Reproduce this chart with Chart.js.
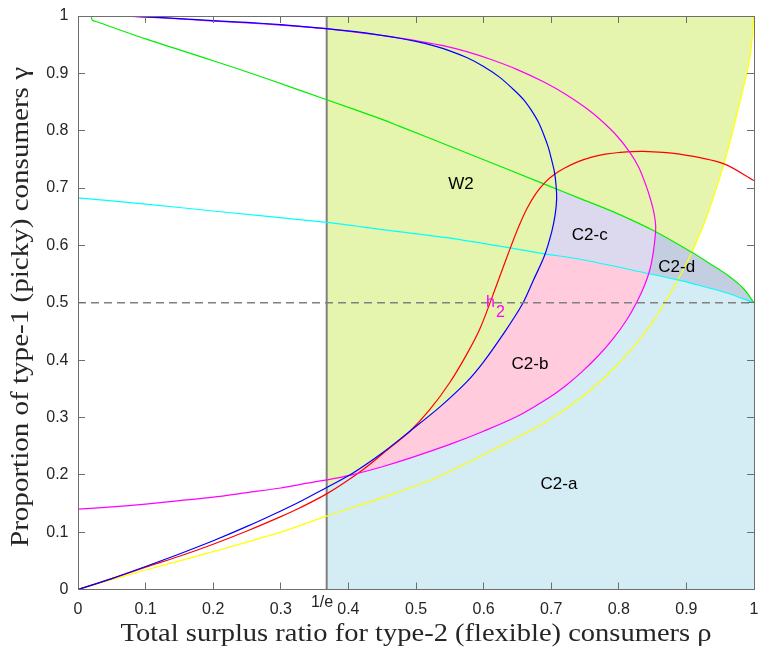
<!DOCTYPE html>
<html>
<head>
<meta charset="utf-8">
<script src="https://cdn.jsdelivr.net/npm/chart.js@4.4.1/dist/chart.umd.min.js"></script>
<style>
  html, body { margin: 0; padding: 0; background: #ffffff; }
  canvas { display: block; }
</style>
</head>
<body>
<canvas id="c" width="759" height="653"></canvas>
<script>
// Threshold on the rho axis
const INV_E = 1 / Math.E;

// Axis ticks (shared by both axes)
const tickValues = [0, 0.1, 0.2, 0.3, 0.4, 0.5, 0.6, 0.7, 0.8, 0.9, 1];
const tickLabels = ['0', '0.1', '0.2', '0.3', '0.4', '0.5', '0.6', '0.7', '0.8', '0.9', '1'];

// Boundary curves, [rho, gamma] pairs in drawing order
const curveGreen = [[0,1],[0.019,1],[0.021,0.993],[0.03,0.989],[0.1,0.960],[0.2,0.922],[0.2786,0.891],[0.3679,0.854],
  [0.447,0.821],[0.476,0.8075],[0.565,0.766],[0.691,0.7064],[0.743,0.6815],[0.787,0.661],[0.851,0.626],
  [0.908,0.588],[0.935,0.568],[0.9645,0.545],[0.985,0.524],[1,0.5]];

const curveCyan = [[0,0.683],[0.1,0.672],[0.2,0.66],[0.3679,0.64],[0.447,0.628],[0.565,0.61],[0.688,0.5857],
  [0.7426,0.5758],[0.8437,0.551],[0.8905,0.539],[0.92,0.530],[0.96,0.517],[1,0.5]];

const curveYellow = [[0,0],[0.1,0.034],[0.2,0.066],[0.3,0.1],[0.3679,0.128],[0.447,0.159],[0.52,0.19],[0.6,0.235],
  [0.693,0.293],[0.7426,0.333],[0.792,0.385],[0.83,0.435],[0.851,0.468],[0.868,0.5],[0.8856,0.536],
  [0.905,0.58],[0.93,0.65],[0.955,0.74],[0.975,0.83],[0.994,0.928],[1,1]];

const curveRed = [[0,0],[0.05,0.019],[0.1,0.039],[0.15,0.058],[0.2,0.079],[0.25,0.102],[0.3,0.127],[0.3284,0.1425],
  [0.369,0.1676],[0.422,0.2094],[0.455,0.241],[0.491,0.276],[0.52,0.313],[0.55,0.361],[0.575,0.41],[0.5947,0.455],
  [0.619,0.53],[0.64,0.597],[0.652,0.633],[0.664,0.664],[0.677,0.69],[0.691,0.71],[0.705,0.724],[0.72,0.735],
  [0.74,0.746],[0.76,0.754],[0.78,0.759],[0.8,0.762],[0.836,0.764],[0.89,0.759],[0.9546,0.7425],[1,0.713]];

const curveBlue = [[0,0],[0.05,0.019],[0.1,0.04],[0.15,0.062],[0.2,0.085],[0.25,0.11],[0.3,0.137],[0.328,0.153],
  [0.3679,0.178],[0.402,0.1995],[0.45,0.238],[0.491,0.276],[0.535,0.318],[0.575,0.362],[0.6,0.397],[0.63,0.447],
  [0.657,0.497],[0.6735,0.539],[0.69,0.582],[0.701,0.625],[0.706,0.655],[0.708,0.68],[0.7072,0.705],[0.7045,0.73],
  [0.7,0.752],[0.696,0.77],[0.69,0.79],[0.681,0.815],[0.671,0.835],[0.66,0.853],[0.645,0.871],[0.624,0.893],
  [0.6,0.912],[0.575,0.9275],[0.55,0.9393],[0.5256,0.9483],[0.5,0.9557],[0.476,0.9612],[0.447,0.9667],
  [0.41,0.9726],[0.3679,0.978],[0.3,0.9848],[0.25,0.9888],[0.2,0.9918],[0.15,0.9955],[0.1,0.9985],[0.07,1]];

const curveMagenta = [[0,0.14],[0.05,0.144],[0.1,0.149],[0.15,0.155],[0.2,0.161],[0.25,0.169],[0.3,0.177],[0.328,0.183],
  [0.3679,0.191],[0.402,0.199],[0.45,0.214],[0.491,0.229],[0.55,0.253],[0.6,0.276],[0.65,0.302],[0.696,0.334],
  [0.72,0.354],[0.745,0.379],[0.77,0.408],[0.792,0.438],[0.8116,0.47],[0.826,0.4997],[0.838,0.53],[0.846,0.558],
  [0.851,0.588],[0.854,0.618],[0.8545,0.635],[0.853,0.65],[0.85,0.667],[0.846,0.684],[0.841,0.702],[0.83,0.735],
  [0.8166,0.7618],[0.797,0.7912],[0.772,0.8199],[0.75,0.8408],[0.723,0.8624],[0.69,0.8845],[0.649,0.907],
  [0.61,0.9245],[0.575,0.9378],[0.54,0.9483],[0.503,0.9564],[0.476,0.9615],[0.447,0.9664],[0.41,0.972],
  [0.3679,0.9775],[0.3,0.984],[0.25,0.988],[0.2,0.991],[0.15,0.995],[0.1,0.998],[0.07,1]];

// Region names and where they are written (rho, gamma)
const regionNames = ['W2', 'C2-c', 'C2-d', 'C2-b', 'C2-a'];
const regionX = [0.5666, 0.7570, 0.8857, 0.6686, 0.7115];
const regionY = [0.7073, 0.6177, 0.5623, 0.3920, 0.1829];

// Curve label h_2 (left end of the "h", on its baseline)
const h2X = 0.6036;
const h2Y = 0.4927;

const xTitle = 'Total surplus ratio for type-2 (flexible) consumers \u03C1';
const yTitle = 'Proportion of type-1 (picky) consumers \u03B3';

// ---- geometry helpers: crossings of two polylines and sub-paths between them ----
function crossings(a, b) {
  const out = [];
  for (let i = 0; i < a.length - 1; i++) {
    for (let j = 0; j < b.length - 1; j++) {
      const [x1, y1] = a[i], [x2, y2] = a[i + 1], [x3, y3] = b[j], [x4, y4] = b[j + 1];
      const d = (x2 - x1) * (y4 - y3) - (y2 - y1) * (x4 - x3);
      if (Math.abs(d) < 1e-14) continue;
      const t = ((x3 - x1) * (y4 - y3) - (y3 - y1) * (x4 - x3)) / d;
      const u = ((x3 - x1) * (y2 - y1) - (y3 - y1) * (x2 - x1)) / d;
      if (t >= 0 && t <= 1 && u >= 0 && u <= 1) {
        out.push({ pa: i + t, pb: j + u, x: x1 + t * (x2 - x1), y: y1 + t * (y2 - y1) });
      }
    }
  }
  return out;
}
function crossing(a, b, keep) {
  const list = crossings(a, b).filter(keep || (() => true));
  return list[0];
}
function pointAt(c, p) {
  const i = Math.min(Math.floor(p), c.length - 2);
  const t = p - i;
  return [c[i][0] + t * (c[i + 1][0] - c[i][0]), c[i][1] + t * (c[i + 1][1] - c[i][1])];
}
function piece(c, p0, p1) {
  const pts = [pointAt(c, p0)];
  if (p0 < p1) {
    for (let i = Math.floor(p0) + 1; i < p1; i++) pts.push(c[i]);
  } else {
    for (let i = Math.ceil(p0) - 1; i > p1; i--) pts.push(c[i]);
  }
  pts.push(pointAt(c, p1));
  return pts;
}

const vLine = [[INV_E, 0], [INV_E, 1]];
const lastC = curveCyan.length - 1;
const lastG = curveGreen.length - 1;
const lastY = curveYellow.length - 1;

const bV = crossing(curveBlue, vLine, h => h.y < 0.5);
const bM = crossing(curveBlue, curveMagenta, h => h.y < 0.5);
const bC = crossing(curveBlue, curveCyan);
const bG = crossing(curveBlue, curveGreen, h => h.x > 0.5);
const mG = crossing(curveMagenta, curveGreen, h => h.x > 0.5);
const mC = crossing(curveMagenta, curveCyan);
const yG = crossing(curveYellow, curveGreen, h => h.x > 0.5);

// Region outlines built from the curves
const regionW2 = [[INV_E, 0], [1, 0], [1, 1], [INV_E, 1]];
const regionA = [[INV_E, 0], [1, 0], ...piece(curveCyan, lastC, bC.pb), ...piece(curveBlue, bC.pa, bV.pa)];
const regionB = [...piece(curveBlue, bM.pa, bC.pa), ...piece(curveCyan, bC.pb, mC.pb), ...piece(curveMagenta, mC.pa, bM.pb)];
const regionC = [...piece(curveBlue, bC.pa, bG.pa), ...piece(curveGreen, bG.pb, mG.pb),
                 ...piece(curveMagenta, mG.pa, mC.pa), ...piece(curveCyan, mC.pb, bC.pb)];
const regionD = [...piece(curveMagenta, mG.pa, mC.pa), ...piece(curveCyan, mC.pb, lastC), ...piece(curveGreen, lastG, mG.pb)];
const regionNone = [...piece(curveYellow, yG.pa, lastY), ...piece(curveGreen, lastG, yG.pb)];

const toXY = pts => pts.map(([x, y]) => ({ x, y }));
function fillSet(pts, color) {
  return { data: toXY(pts), fill: 'shape', backgroundColor: color, borderColor: 'rgba(0,0,0,0)',
           borderWidth: 0, pointRadius: 0, tension: 0 };
}
function lineSet(pts, color, extra) {
  return Object.assign({ data: toXY(pts), fill: false, borderColor: color, backgroundColor: color,
                         borderWidth: 1.2, pointRadius: 0, tension: 0.3 }, extra || {});
}

// bottom to top
const layers = [
  fillSet(regionW2, '#e5f5ad'),
  fillSet(regionA, '#d4ecf3'),
  fillSet(regionB, '#ffcbdd'),
  fillSet(regionC, '#dcd8ee'),
  fillSet(regionD, '#c3cfe0'),
  fillSet(regionNone, '#ffffff'),
  lineSet(vLine, '#808080', { borderWidth: 2, tension: 0 }),
  lineSet(curveYellow, '#ffff00'),
  lineSet(curveCyan, '#00ffff'),
  lineSet(curveGreen, '#00ee00'),
  lineSet(curveRed, '#ff0000'),
  lineSet(curveMagenta, '#ff00ff'),
  lineSet(curveBlue, '#0000ff'),
  lineSet([[0, 0.5], [1, 0.5]], '#808080', { borderWidth: 1.5, borderDash: [8, 5], tension: 0 })
];
layers.forEach((d, i) => { d.order = layers.length - i; });

const AXIS_COLOR = '#6e6e6e';
const TEXT_COLOR = '#262626';
const tickFont = { family: '"Liberation Sans", Arial, sans-serif', size: 16 };

function useTicks(scale) {
  scale.ticks = tickValues.map(v => ({ value: v }));
}
function axis(position, showLabels, fitSize) {
  const horizontal = position === 'bottom' || position === 'top';
  return {
    type: 'linear', position, min: 0, max: 1,
    afterBuildTicks: useTicks,
    afterFit(scale) {
      if (horizontal) scale.height = fitSize; else scale.width = fitSize;
      // labels stay inside the fixed margins, so no extra room is reserved for them
      scale.paddingTop = 0; scale.paddingBottom = 0; scale.paddingLeft = 0; scale.paddingRight = 0;
    },
    ticks: {
      display: showLabels, color: TEXT_COLOR, font: tickFont,
      padding: horizontal ? 17 : 16.5,
      maxRotation: 0, autoSkip: false,
      callback: (v, i) => tickLabels[i]
    },
    grid: { drawOnChartArea: false, drawTicks: true, tickLength: -7, color: AXIS_COLOR, lineWidth: 1, z: 1 },
    border: { display: true, color: AXIS_COLOR, width: 1, z: 1 }
  };
}

function stretchedText(ctx, text, cx, cy, width, angle) {
  const w = ctx.measureText(text).width;
  ctx.save();
  ctx.translate(cx, cy);
  ctx.rotate(angle);
  ctx.scale(width / w, 1);
  ctx.textAlign = 'center';
  ctx.textBaseline = 'alphabetic';
  ctx.fillText(text, 0, 0);
  ctx.restore();
}

const annotations = {
  id: 'annotations',
  afterDraw(chart) {
    const { ctx, chartArea } = chart;
    const xs = chart.scales.x, ys = chart.scales.y;
    ctx.save();

    // region names
    ctx.fillStyle = '#000000';
    ctx.font = '17px "Liberation Sans", Arial, sans-serif';
    ctx.textAlign = 'center';
    ctx.textBaseline = 'middle';
    regionNames.forEach((name, i) => {
      ctx.fillText(name, xs.getPixelForValue(regionX[i]), ys.getPixelForValue(regionY[i]));
    });

    // h_2 next to the red curve
    ctx.fillStyle = '#ff00ff';
    ctx.font = '16px "Liberation Sans", Arial, sans-serif';
    ctx.textAlign = 'left';
    ctx.textBaseline = 'alphabetic';
    const hx = xs.getPixelForValue(h2X), hy = ys.getPixelForValue(h2Y);
    ctx.fillText('h', hx, hy);
    ctx.fillText('2', hx + ctx.measureText('h').width + 1, hy + 10);

    // 1/e marker under the threshold line
    ctx.fillStyle = TEXT_COLOR;
    ctx.textAlign = 'right';
    ctx.fillText('1/e', xs.getPixelForValue(INV_E) + 6.5, 606.5);

    // axis titles
    ctx.font = '25px "Liberation Serif", "Times New Roman", serif';
    ctx.fillStyle = TEXT_COLOR;
    stretchedText(ctx, xTitle, (chartArea.left + chartArea.right) / 2, 641, 591, 0);
    stretchedText(ctx, yTitle, 28, 307, 480, -Math.PI / 2);

    ctx.restore();
  }
};

new Chart(document.getElementById('c'), {
  type: 'line',
  data: { datasets: layers },
  options: {
    responsive: false,
    animation: false,
    devicePixelRatio: 1,
    layout: { padding: { left: 0, right: 5, top: 16, bottom: 0 } },
    plugins: { legend: { display: false }, tooltip: { enabled: false }, title: { display: false } },
    interaction: { mode: null },
    events: [],
    scales: {
      x: axis('bottom', true, 63.5),
      y: axis('left', true, 78),
      x2: axis('top', false, 0),
      y2: axis('right', false, 0)
    }
  },
  plugins: [annotations]
});
</script>
</body>
</html>
